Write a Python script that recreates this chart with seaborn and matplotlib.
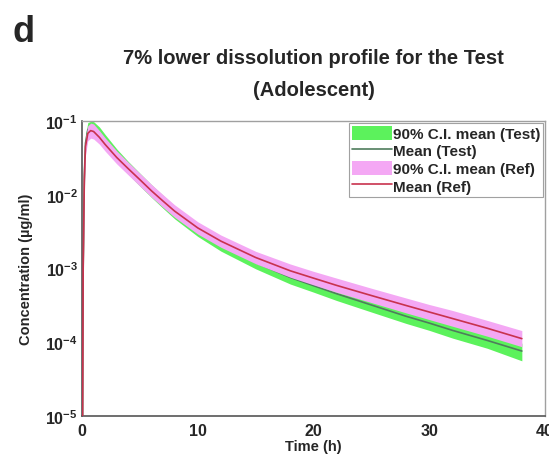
import numpy as np
import pandas as pd
import matplotlib
matplotlib.use("Agg")
import matplotlib.pyplot as plt
from matplotlib.patches import Patch
from matplotlib.lines import Line2D
from matplotlib.ticker import FixedLocator, FixedFormatter, NullLocator
import seaborn as sns

# Simulated plasma concentration–time profiles (µg/ml)
time_h = [0, 0.1, 0.2, 0.3, 0.5, 0.75, 1, 1.5, 2, 3, 4, 5, 6, 7, 8, 10,
          12, 15, 18, 20, 22, 25, 28, 30, 32, 35, 38]

ref_mean = [1e-7, 1.0e-3, 1.6e-2, 4.5e-2, 6.8e-2, 7.4e-2, 7.2e-2, 6.0e-2, 4.8e-2,
            3.2e-2, 2.25e-2, 1.6e-2, 1.13e-2, 8.2e-3, 6.0e-3, 3.55e-3, 2.35e-3,
            1.41e-3, 9.3e-4, 7.4e-4, 5.9e-4, 4.3e-4, 3.15e-4, 2.57e-4, 2.1e-4,
            1.55e-4, 1.12e-4]
ref_lo = [1e-7, 5.5e-4, 1.15e-2, 3.5e-2, 5.4e-2, 5.85e-2, 5.7e-2, 4.85e-2, 3.9e-2,
          2.62e-2, 1.85e-2, 1.31e-2, 9.3e-3, 6.75e-3, 4.95e-3, 2.93e-3, 1.94e-3,
          1.16e-3, 7.6e-4, 6.0e-4, 4.75e-4, 3.45e-4, 2.5e-4, 2.03e-4, 1.65e-4,
          1.21e-4, 8.7e-5]
ref_hi = [1e-7, 1.7e-3, 2.2e-2, 5.8e-2, 8.6e-2, 9.35e-2, 9.1e-2, 7.4e-2, 5.9e-2,
          3.92e-2, 2.75e-2, 1.95e-2, 1.38e-2, 1.0e-2, 7.3e-3, 4.3e-3, 2.84e-3,
          1.71e-3, 1.15e-3, 9.15e-4, 7.4e-4, 5.4e-4, 3.98e-4, 3.25e-4, 2.7e-4,
          1.98e-4, 1.44e-4]

test_mean = [1e-7, 1.1e-3, 1.8e-2, 5.0e-2, 7.6e-2, 8.3e-2, 8.1e-2, 6.7e-2, 5.3e-2,
             3.4e-2, 2.3e-2, 1.6e-2, 1.12e-2, 8.0e-3, 5.75e-3, 3.3e-3, 2.1e-3,
             1.2e-3, 7.55e-4, 5.85e-4, 4.55e-4, 3.2e-4, 2.25e-4, 1.82e-4, 1.45e-4,
             1.06e-4, 7.6e-5]
test_lo = [1e-7, 6.0e-4, 1.3e-2, 3.9e-2, 6.1e-2, 6.6e-2, 6.5e-2, 5.5e-2, 4.35e-2,
           2.78e-2, 1.89e-2, 1.31e-2, 9.2e-3, 6.55e-3, 4.72e-3, 2.72e-3, 1.72e-3,
           9.9e-4, 6.15e-4, 4.78e-4, 3.68e-4, 2.57e-4, 1.8e-4, 1.45e-4, 1.14e-4,
           8.3e-5, 5.6e-5]
test_hi = [1e-7, 1.9e-3, 2.5e-2, 6.4e-2, 9.5e-2, 9.9e-2, 9.8e-2, 8.3e-2, 6.55e-2,
           4.18e-2, 2.82e-2, 1.96e-2, 1.37e-2, 9.8e-3, 7.05e-3, 4.0e-3, 2.55e-3,
           1.46e-3, 9.3e-4, 7.2e-4, 5.65e-4, 3.98e-4, 2.84e-4, 2.28e-4, 1.85e-4,
           1.35e-4, 9.7e-5]

x_ticks = [0, 10, 20, 30, 40]
y_ticks = [1e-5, 1e-4, 1e-3, 1e-2, 1e-1]
y_tick_labels = [r"$\mathbf{10^{-5}}$", r"$\mathbf{10^{-4}}$", r"$\mathbf{10^{-3}}$",
                 r"$\mathbf{10^{-2}}$", r"$\mathbf{10^{-1}}$"]

df = pd.DataFrame({"time": time_h, "ref": ref_mean, "test": test_mean})

sns.set_style("white")
plt.rcParams["font.family"] = ["Liberation Sans", "DejaVu Sans"]
plt.rcParams["font.weight"] = "bold"
plt.rcParams["mathtext.fontset"] = "custom"
plt.rcParams["mathtext.bf"] = "Liberation Sans:bold"
plt.rcParams["mathtext.rm"] = "Liberation Sans:bold"

GREEN = "#5cf25c"
PINK = "#f4a8f4"
TEST_LINE = "#4f7d5c"
REF_LINE = "#c8324e"

fig = plt.figure(figsize=(5.49, 4.56), dpi=100)
ax = fig.add_axes([0.1494, 0.0855, 0.8433, 0.647])

ax.fill_between(time_h, test_lo, test_hi, color=GREEN, linewidth=0, zorder=1)
sns.lineplot(data=df, x="time", y="test", ax=ax, color=TEST_LINE, lw=1.2, zorder=2)
ax.fill_between(time_h, ref_lo, ref_hi, color=PINK, linewidth=0, zorder=3)
sns.lineplot(data=df, x="time", y="ref", ax=ax, color=REF_LINE, lw=1.2, zorder=4)

ax.set_yscale("log")
ax.set_xlim(0, 40)
ax.set_ylim(1e-5, 1e-1)
ax.xaxis.set_major_locator(FixedLocator(x_ticks))
ax.yaxis.set_major_locator(FixedLocator(y_ticks))
ax.yaxis.set_major_formatter(FixedFormatter(y_tick_labels))
ax.yaxis.set_minor_locator(NullLocator())
ax.tick_params(axis="both", direction="in", length=4, width=0.8, labelsize=11.5,
               color="#555555")
ax.tick_params(axis="x", pad=5)
ax.tick_params(axis="y", pad=3)
for lbl in ax.get_xticklabels():
    lbl.set_fontweight("bold")

for side in ["left", "bottom"]:
    ax.spines[side].set_color("#555555")
    ax.spines[side].set_linewidth(1.2)
for side in ["top", "right"]:
    ax.spines[side].set_color("#a0a0a0")
    ax.spines[side].set_linewidth(1.0)

ax.set_xlabel("Time (h)", fontsize=10.5, fontweight="bold", labelpad=1)
ax.set_ylabel("Concentration (\u00b5g/ml)", fontsize=10.5, fontweight="bold", labelpad=9)
ax.set_title("7% lower dissolution profile for the Test\n(Adolescent)",
             fontsize=14.5, fontweight="bold", linespacing=1.85, pad=19)

fig.text(0.022, 0.928, "d", fontsize=26, fontweight="bold", va="center", ha="left")

handles = [
    Patch(facecolor=GREEN, edgecolor="none", label="90% C.I. mean (Test)"),
    Line2D([], [], color=TEST_LINE, lw=1.2, label="Mean (Test)"),
    Patch(facecolor=PINK, edgecolor="none", label="90% C.I. mean (Ref)"),
    Line2D([], [], color=REF_LINE, lw=1.2, label="Mean (Ref)"),
]
leg = ax.legend(handles=handles, loc="upper right", frameon=True,
                fancybox=False, borderaxespad=0.1, borderpad=0.2,
                labelspacing=0.15, handlelength=2.6, handleheight=1.05,
                handletextpad=0.1, prop={"weight": "bold", "size": 11})
leg.get_frame().set_edgecolor("#8a8a8a")
leg.get_frame().set_linewidth(0.8)

fig.savefig("out.png", dpi=100)
